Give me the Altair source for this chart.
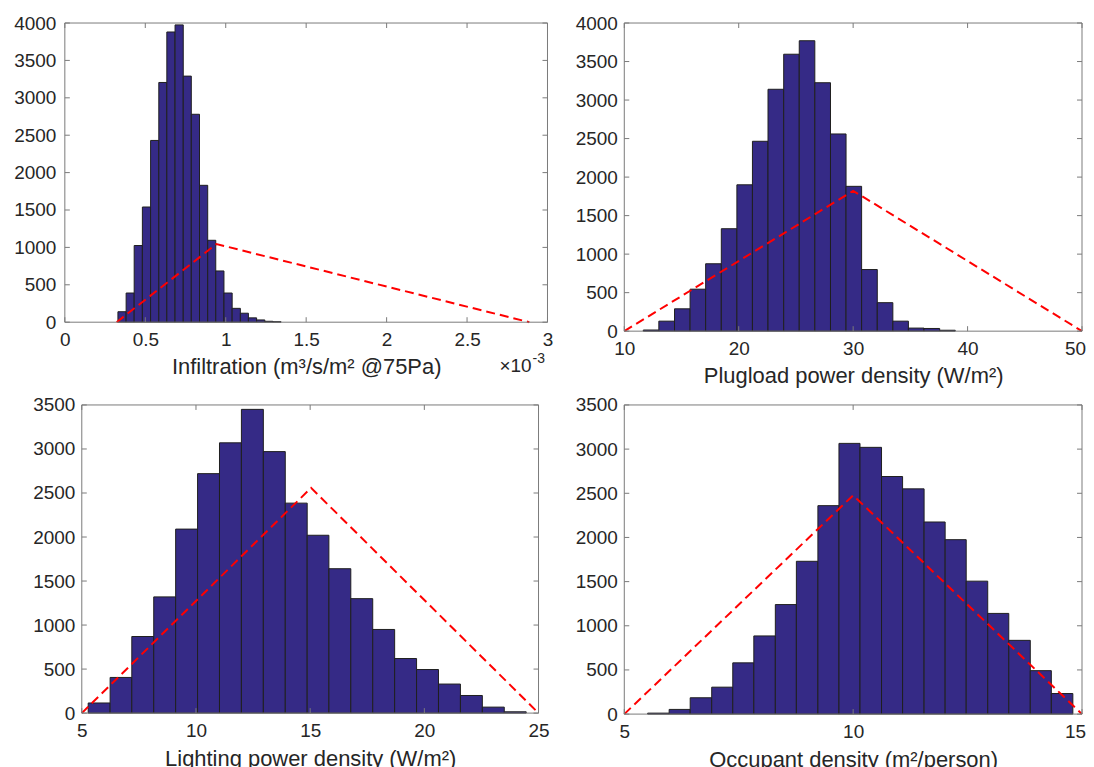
import altair as alt
import pandas as pd

FONT = "Liberation Sans"
BAR_FILL = "#352a86"
BAR_EDGE = "#1f1f1f"
BOX = "#7a7a7a"
TXT = "#262626"
RED = "#ff0000"

# ---- Panel 1: Infiltration (x in units of 1e-3 m3/s/m2 @75Pa)
inf_edges = [0.330, 0.381, 0.431, 0.482, 0.533, 0.584, 0.634, 0.685, 0.736, 0.786,
             0.837, 0.888, 0.938, 0.989, 1.040, 1.091, 1.141, 1.192, 1.243, 1.293, 1.344]
inf_counts = [140, 390, 1025, 1540, 2430, 3205, 3880, 3975, 3290, 2780,
              1830, 1095, 685, 390, 185, 120, 58, 30, 12, 6]
inf_red_x = [0.322, 0.942, 2.887]
inf_red_y = [0, 1045, 0]
inf_xticks = [0, 0.5, 1, 1.5, 2, 2.5, 3]

# ---- Panel 2: Plugload power density
plug_edges = [11.66, 13.02, 14.39, 15.75, 17.11, 18.48, 19.84, 21.20, 22.56, 23.93,
              25.29, 26.65, 28.02, 29.38, 30.74, 32.11, 33.47, 34.83, 36.19, 37.56, 38.92]
plug_counts = [15, 130, 290, 545, 875, 1330, 1900, 2465, 3140, 3595,
               3770, 3225, 2560, 1880, 800, 370, 130, 40, 35, 12]
plug_red_x = [10, 30.0, 50]
plug_red_y = [0, 1822, 0]
plug_xticks = [10, 20, 30, 40, 50]

# ---- Panel 3: Lighting power density
light_edges = [5.28, 6.24, 7.19, 8.15, 9.11, 10.07, 11.03, 11.99, 12.95, 13.91,
               14.87, 15.82, 16.78, 17.74, 18.70, 19.66, 20.62, 21.58, 22.54, 23.50, 24.46]
light_counts = [115, 405, 870, 1320, 2090, 2720, 3070, 3450, 2970, 2385,
                2020, 1640, 1300, 950, 620, 495, 330, 200, 68, 15]
light_red_x = [5, 15.04, 25]
light_red_y = [0, 2558, 0]
light_xticks = [5, 10, 15, 20, 25]

# ---- Panel 4: Occupant density
occ_edges = [5.51, 5.98, 6.44, 6.91, 7.37, 7.83, 8.30, 8.76, 9.23, 9.69,
             10.15, 10.62, 11.08, 11.55, 12.01, 12.47, 12.94, 13.40, 13.87, 14.33, 14.80]
occ_counts = [11, 53, 185, 305, 580, 885, 1240, 1730, 2360, 3065,
              3020, 2690, 2550, 2175, 1975, 1505, 1140, 835, 492, 233]
occ_red_x = [5, 10.0, 15]
occ_red_y = [0, 2477, 0]
occ_xticks = [5, 10, 15]

y4000 = [0, 500, 1000, 1500, 2000, 2500, 3000, 3500, 4000]
y3500 = [0, 500, 1000, 1500, 2000, 2500, 3000, 3500]


def panel(edges, counts, red_x, red_y, xdom, xticks, ydom, yticks, w, h,
          xtitle, lpad, tpad, ext=None, inset=0, last_shift=0, exponent=False):
    bars_df = pd.DataFrame({"lo": edges[:-1], "hi": edges[1:], "n": counts})
    red_df = pd.DataFrame({"lo": red_x, "n": red_y})
    xt_df = pd.DataFrame({"lo": xticks})
    yt_df = pd.DataFrame({"n": yticks})
    if inset:
        xs = alt.Scale(domain=xdom, nice=False, zero=False, range=[inset, w + inset])
    else:
        xs = alt.Scale(domain=xdom, nice=False, zero=False)
    ys = alt.Scale(domain=ydom, nice=False, zero=True)
    xkw = dict(values=xticks, format="~r", title=xtitle, labelPadding=8,
               titlePadding=tpad, labelOverlap=False, labelFlush=False)
    if last_shift:
        xkw.update(labelOffset={"condition": {"test": f"datum.value == {xdom[1]}",
                                              "value": last_shift}, "value": 0})
    xaxis = alt.Axis(**xkw)
    ykw = dict(values=yticks, format="d", title=None, labelPadding=lpad,
               labelOverlap=False)
    if ext:
        ykw.update(minExtent=ext, maxExtent=ext)
    if inset:
        ykw.update(offset=-inset)
    yaxis = alt.Axis(**ykw)

    X = lambda: alt.X("lo:Q", scale=xs, axis=xaxis)
    Y = lambda: alt.Y("n:Q", scale=ys, axis=yaxis)
    XD = lambda v: alt.X(datum=v, type="quantitative", scale=xs, axis=xaxis)
    YD = lambda v: alt.Y(datum=v, type="quantitative", scale=ys, axis=yaxis)

    bars = alt.Chart(bars_df).mark_rect(fill=BAR_FILL, stroke=BAR_EDGE, strokeWidth=1).encode(
        x=X(), x2="hi:Q", y=Y(), y2=alt.Y2(datum=0))
    red = alt.Chart(red_df).mark_line(color=RED, strokeDash=[9, 5], strokeWidth=2).encode(
        x=X(), y=Y())
    # box (axes frame)
    rule = dict(color=BOX, strokeWidth=1)
    one = pd.DataFrame({"k": [0]})
    box_l = alt.Chart(one).mark_rule(**rule).encode(
        x=XD(xdom[0]), y=YD(ydom[0]), y2=alt.Y2(datum=ydom[1]))
    box_r = alt.Chart(one).mark_rule(**rule).encode(
        x=XD(xdom[1]), y=YD(ydom[0]), y2=alt.Y2(datum=ydom[1]))
    box_b = alt.Chart(one).mark_rule(**rule).encode(
        y=YD(ydom[0]), x=XD(xdom[0]), x2=alt.X2(datum=xdom[1]))
    box_t = alt.Chart(one).mark_rule(**rule).encode(
        y=YD(ydom[1]), x=XD(xdom[0]), x2=alt.X2(datum=xdom[1]))
    # inward ticks on all four sides
    bt = alt.Chart(xt_df).mark_rule(y2Offset=-5, **rule).encode(
        x=X(), y=YD(ydom[0]), y2=alt.Y2(datum=ydom[0]))
    tt = alt.Chart(xt_df).mark_rule(y2Offset=5, **rule).encode(
        x=X(), y=YD(ydom[1]), y2=alt.Y2(datum=ydom[1]))
    lt = alt.Chart(yt_df).mark_rule(x2Offset=5, **rule).encode(
        y=Y(), x=XD(xdom[0]), x2=alt.X2(datum=xdom[0]))
    rt = alt.Chart(yt_df).mark_rule(x2Offset=-5, **rule).encode(
        y=Y(), x=XD(xdom[1]), x2=alt.X2(datum=xdom[1]))
    layers = [bars, red, box_l, box_r, box_b, box_t, bt, tt, lt, rt]
    if exponent:
        t1 = alt.Chart(pd.DataFrame({"s": ["×10"]})).mark_text(
            align="right", baseline="alphabetic", fontSize=19, font=FONT, color=TXT
        ).encode(x=alt.value(w - 16), y=alt.value(h + 50), text="s:N")
        t2 = alt.Chart(pd.DataFrame({"s": ["-3"]})).mark_text(
            align="left", baseline="alphabetic", fontSize=14, font=FONT, color=TXT
        ).encode(x=alt.value(w - 15), y=alt.value(h + 41), text="s:N")
        layers += [t1, t2]
    return alt.layer(*layers).properties(width=w + inset, height=h)


p1 = panel(inf_edges, inf_counts, inf_red_x, inf_red_y, [0, 3], inf_xticks,
           [0, 4000], y4000, 484, 300, "Infiltration (m³/s/m² @75Pa)", 9, 7,
           ext=52, exponent=True)
p2 = panel(plug_edges, plug_counts, plug_red_x, plug_red_y, [10, 50], plug_xticks,
           [0, 4000], y4000, 459, 309, "Plugload power density (W/m²)", 7, 7,
           ext=50, last_shift=-7)
p3 = panel(light_edges, light_counts, light_red_x, light_red_y, [5, 25], light_xticks,
           [0, 3500], y3500, 458, 309, "Lighting power density (W/m²)", 7, 9, inset=17)
p4 = panel(occ_edges, occ_counts, occ_red_x, occ_red_y, [5, 15], occ_xticks,
           [0, 3500], y3500, 459, 310, "Occupant density (m²/person)", 7, 9,
           ext=50, last_shift=-7)

chart = alt.concat(
    p1, p2, p3, p4, columns=2, align="each",
    spacing={"row": 8, "column": 20},
).properties(
    padding={"left": 4, "top": 4, "right": -1, "bottom": 0},
    background="white",
).configure_view(
    stroke="transparent"
).configure_axis(
    domain=False, grid=False, ticks=False, tickSize=0,
    labelFont=FONT, labelFontSize=19, labelColor=TXT,
    titleFont=FONT, titleFontSize=22, titleFontWeight="normal", titleColor=TXT,
)

chart.save("out.html", embed_options={"renderer": "svg", "actions": False})
